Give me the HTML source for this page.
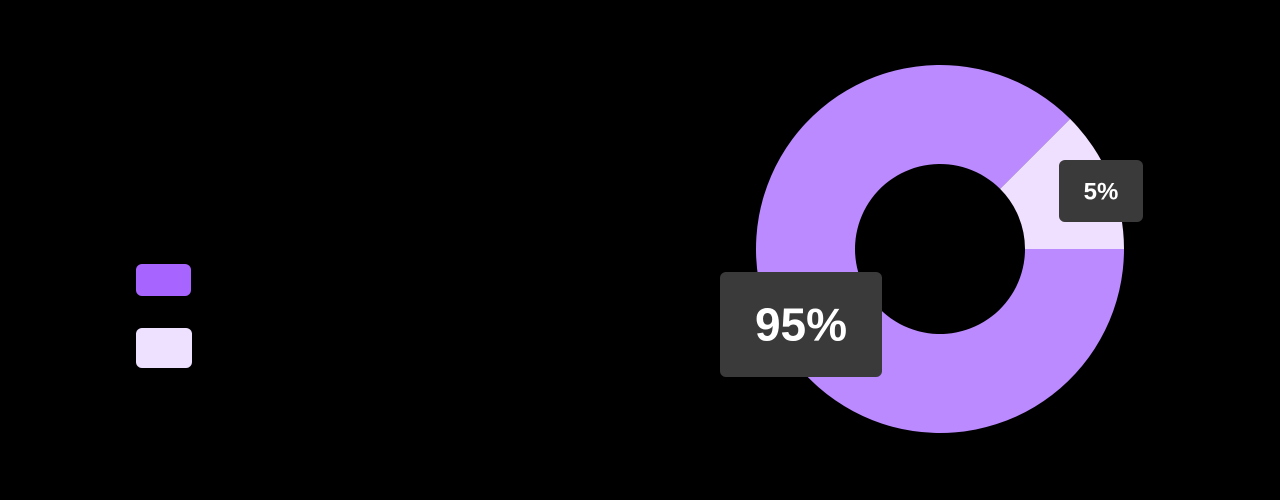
<!DOCTYPE html>
<html><head><meta charset="utf-8">
<style>
html,body{margin:0;padding:0;background:#000;width:1280px;height:500px;overflow:hidden;font-family:"Liberation Sans",sans-serif;}
</style></head>
<body>
<svg id="chart" width="1280" height="500" viewBox="0 0 1280 500" xmlns="http://www.w3.org/2000/svg">
  <rect x="0" y="0" width="1280" height="500" fill="#000"/>
  <rect x="136" y="264" width="55" height="32" rx="6" fill="#a864ff"/>
  <rect x="136" y="328" width="56" height="40" rx="6" fill="#eee0ff"/>
  <g id="slices"></g>
  <g id="labels"></g>
</svg>
<script>
const categories = ["primary", "secondary"];
const values = [87.5, 12.5];
const printed = ["95%", "5%"];
const colors = ["#bb8aff", "#f0e0ff"];

const cx = 940, cy = 249, rOut = 184, rIn = 85;
const startDeg = 90; // clockwise from 12 o'clock
const NS = "http://www.w3.org/2000/svg";
const total = values.reduce((a, b) => a + b, 0);
function pt(r, deg) { const a = (deg - 90) * Math.PI / 180; return [cx + r * Math.cos(a), cy + r * Math.sin(a)]; }
let ang = startDeg;
const slicesG = document.getElementById("slices");
values.forEach((v, i) => {
  const sweep = v / total * 360;
  const a0 = ang, a1 = ang + sweep;
  const large = sweep > 180 ? 1 : 0;
  const [x0, y0] = pt(rOut, a0), [x1, y1] = pt(rOut, a1), [x2, y2] = pt(rIn, a1), [x3, y3] = pt(rIn, a0);
  const p = document.createElementNS(NS, "path");
  p.setAttribute("d", `M${x0},${y0} A${rOut},${rOut} 0 ${large} 1 ${x1},${y1} L${x2},${y2} A${rIn},${rIn} 0 ${large} 0 ${x3},${y3} Z`);
  p.setAttribute("fill", colors[i]);
  
  
  slicesG.appendChild(p);
  ang = a1;
});
const labelsG = document.getElementById("labels");
const boxes = [
  { x: 720, y: 272, w: 162, h: 105, fs: 46 },
  { x: 1059, y: 160, w: 84, h: 62, fs: 24 }
];
printed.forEach((t, i) => {
  const b = boxes[i];
  const r = document.createElementNS(NS, "rect");
  r.setAttribute("x", b.x); r.setAttribute("y", b.y); r.setAttribute("width", b.w); r.setAttribute("height", b.h);
  r.setAttribute("rx", 6); r.setAttribute("fill", "#3a3a3a");
  
  
  labelsG.appendChild(r);
  const tx = document.createElementNS(NS, "text");
  tx.setAttribute("x", b.x + b.w / 2); tx.setAttribute("y", b.y + b.h / 2 + b.fs * 0.35);
  tx.setAttribute("text-anchor", "middle"); tx.setAttribute("fill", "#ffffff");
  tx.setAttribute("font-size", b.fs); tx.setAttribute("font-weight", "bold");
  tx.setAttribute("font-family", "Liberation Sans, sans-serif");
  tx.textContent = t;
  
  
  labelsG.appendChild(tx);
});
</script>
</body></html>
